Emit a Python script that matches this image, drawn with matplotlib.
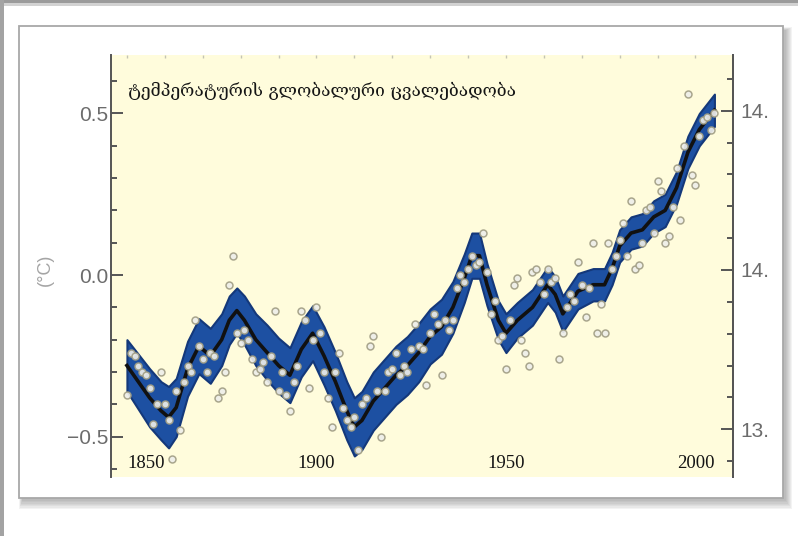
import numpy as np
import matplotlib.pyplot as plt
from matplotlib.patches import Rectangle
from matplotlib.ticker import MultipleLocator, FixedLocator, FuncFormatter

# annual global mean temperature anomalies (deg C), 1850-2005
years = np.arange(1850, 2006)
annual = [
    -0.37, -0.24, -0.25, -0.28, -0.30, -0.31, -0.35, -0.46, -0.40, -0.30,  # 1850s
    -0.40, -0.45, -0.57, -0.36, -0.48, -0.33, -0.28, -0.30, -0.14, -0.22,  # 1860s
    -0.26, -0.30, -0.24, -0.25, -0.38, -0.36, -0.30, -0.03, 0.06, -0.18,   # 1870s
    -0.21, -0.17, -0.20, -0.26, -0.30, -0.29, -0.27, -0.33, -0.25, -0.11,  # 1880s
    -0.36, -0.30, -0.37, -0.42, -0.33, -0.28, -0.11, -0.14, -0.35, -0.20,  # 1890s
    -0.10, -0.18, -0.30, -0.38, -0.47, -0.30, -0.24, -0.41, -0.45, -0.47,  # 1900s
    -0.44, -0.54, -0.40, -0.38, -0.22, -0.19, -0.36, -0.50, -0.36, -0.30,  # 1910s
    -0.29, -0.24, -0.31, -0.28, -0.30, -0.23, -0.15, -0.22, -0.23, -0.34,  # 1920s
    -0.18, -0.12, -0.15, -0.31, -0.14, -0.17, -0.14, -0.04, 0.00, -0.02,   # 1930s
    0.02, 0.06, 0.03, 0.04, 0.13, 0.01, -0.12, -0.08, -0.20, -0.19,        # 1940s
    -0.29, -0.14, -0.03, -0.01, -0.20, -0.24, -0.28, 0.01, 0.02, -0.02,    # 1950s
    -0.06, 0.02, -0.02, -0.01, -0.26, -0.18, -0.10, -0.06, -0.08, 0.04,    # 1960s
    -0.03, -0.13, -0.04, 0.10, -0.18, -0.09, -0.18, 0.10, 0.02, 0.06,      # 1970s
    0.11, 0.16, 0.06, 0.23, 0.02, 0.03, 0.10, 0.20, 0.21, 0.13,            # 1980s
    0.29, 0.26, 0.10, 0.12, 0.21, 0.33, 0.17, 0.40, 0.56, 0.31,            # 1990s
    0.28, 0.43, 0.48, 0.49, 0.45, 0.50,                                    # 2000s
]

# smoothed curve and half-width of its uncertainty band
smooth_years = [1850, 1853, 1856, 1859, 1861, 1863, 1866, 1869, 1872, 1875,
                1877, 1879, 1881, 1884, 1887, 1890, 1893, 1896, 1899, 1902,
                1905, 1908, 1910, 1912, 1915, 1918, 1921, 1924, 1927, 1930,
                1933, 1936, 1939, 1941, 1943, 1945, 1948, 1950, 1953, 1957,
                1961, 1963, 1965, 1969, 1973, 1976, 1978, 1980, 1983, 1986,
                1989, 1992, 1995, 1998, 2001, 2005]
smooth_vals = [-0.28, -0.33, -0.38, -0.42, -0.44, -0.41, -0.29, -0.22, -0.25, -0.20,
               -0.14, -0.11, -0.14, -0.20, -0.24, -0.28, -0.31, -0.23, -0.18, -0.25,
               -0.33, -0.42, -0.47, -0.45, -0.39, -0.35, -0.31, -0.28, -0.24, -0.19,
               -0.16, -0.10, -0.01, 0.06, 0.06, -0.03, -0.14, -0.18, -0.14, -0.10,
               -0.03, -0.06, -0.12, -0.05, -0.03, -0.03, 0.02, 0.09, 0.13, 0.14,
               0.18, 0.20, 0.27, 0.38, 0.45, 0.51]
band_half = [0.08, 0.085, 0.09, 0.09, 0.095, 0.09, 0.085, 0.085, 0.085, 0.08,
             0.075, 0.07, 0.075, 0.08, 0.085, 0.085, 0.085, 0.085, 0.085, 0.09,
             0.09, 0.09, 0.09, 0.09, 0.09, 0.09, 0.09, 0.09, 0.09, 0.085,
             0.085, 0.08, 0.075, 0.07, 0.07, 0.065, 0.06, 0.06, 0.055, 0.055,
             0.055, 0.055, 0.055, 0.055, 0.05, 0.05, 0.05, 0.05, 0.05, 0.05,
             0.05, 0.05, 0.05, 0.05, 0.05, 0.05]

year_ticks = [1850, 1900, 1950, 2000]
left_ticks = [-0.5, 0.0, 0.5]
right_ticks = [13.5, 14.0, 14.5]
title = "ტემპერატურის გლობალური ცვალებადობა"

W, H = 798, 536
fig = plt.figure(figsize=(W / 100, H / 100), dpi=100)


def box(x0, y0, x1, y1, **kw):
    # rectangle given in pixels measured from the top-left corner
    r = Rectangle((x0 / W, 1 - y1 / H), (x1 - x0) / W, (y1 - y0) / H,
                  transform=fig.transFigure, **kw)
    fig.add_artist(r)
    return r


# page frame, card and its shadow
box(0, 0, W, 3, color='#9b9b9b', zorder=-10, lw=0)
box(0, 3, W, 6, color='#d2d2d2', zorder=-10, lw=0)
box(0, 0, 4, H, color='#a3a3a3', zorder=-10, lw=0)
for i in range(7):
    box(22 - i * 0.5, 30 - i * 0.5, 786 + i, 501 + i * 1.3,
        color='#606060', alpha=0.07, zorder=-9, lw=0)
box(19, 26, 783, 498, facecolor='white', edgecolor='#a8a8a8', lw=1.3, zorder=-8)

ax = fig.add_axes([111 / W, 59 / H, 622 / W, 422 / H])
ax.set_facecolor('#fffcdc')
ax.set_xlim(1845.8, 2009.9)
ax.set_ylim(-0.625, 0.681)

lo = np.array(smooth_vals) - np.array(band_half)
hi = np.array(smooth_vals) + np.array(band_half)
ax.fill_between(smooth_years, lo, hi, facecolor='#1d50a2', edgecolor='#14387a',
                lw=1.5, zorder=2)
ax.plot(smooth_years, smooth_vals, color='#111111', lw=2.6, zorder=3,
        solid_joinstyle='round')
ax.plot(years, annual, 'o', ms=5.0, mfc='#eeeeea', mec='#a29f86', mew=1.1,
        alpha=0.92, zorder=4)

for side in ['top', 'bottom']:
    ax.spines[side].set_visible(False)
for side in ['left', 'right']:
    ax.spines[side].set_color('#555555')
    ax.spines[side].set_linewidth(1.4)

# left axis: anomaly
ax.yaxis.set_major_locator(FixedLocator(left_ticks))
ax.yaxis.set_minor_locator(MultipleLocator(0.1))
ax.yaxis.set_major_formatter(FuncFormatter(lambda v, p: f"{v:.1f}".replace('-', '\u2212')))
ax.tick_params(axis='y', which='both', direction='in', color='#555555', width=1.4,
               labelsize=15, labelcolor='#6c6c6c', pad=2)
ax.tick_params(axis='y', which='major', length=8.5)
ax.tick_params(axis='y', which='minor', length=4.3)
for t in ax.get_yticklabels():
    t.set_fontfamily('Liberation Sans')

# bottom year labels sit inside the plot
ax.xaxis.set_major_locator(FixedLocator(year_ticks))
ax.tick_params(axis='x', which='both', length=0, pad=-15.5, labelsize=13.5,
               labelcolor='#141414')
for t in ax.get_xticklabels():
    t.set_fontfamily('Liberation Serif')
ax.get_xticklabels()[0].set_horizontalalignment('left')

# faint decade marks along the top
top = ax.secondary_xaxis('top')
top.xaxis.set_major_locator(MultipleLocator(10))
top.tick_params(direction='in', length=2.5, width=1, color='#c4c4b4', labelsize=0,
                labelcolor='none')
top.spines['top'].set_visible(False)

# right axis: absolute temperature
ax2 = ax.twinx()
ax2.set_ylim(13.35, 14.675)
ax2.yaxis.set_major_locator(FixedLocator(right_ticks))
ax2.yaxis.set_minor_locator(MultipleLocator(0.1))
ax2.yaxis.set_major_formatter(FuncFormatter(lambda v, p: f"{v:.1f}"))
ax2.tick_params(axis='y', which='both', direction='in', color='#555555', width=1.4,
                labelsize=15, labelcolor='#6c6c6c', pad=5)
ax2.tick_params(axis='y', which='major', length=8.5)
ax2.tick_params(axis='y', which='minor', length=4.3)
for t in ax2.get_yticklabels():
    t.set_fontfamily('Liberation Sans')
for side in ['top', 'bottom', 'left']:
    ax2.spines[side].set_visible(False)
ax2.spines['right'].set_color('#555555')
ax2.spines['right'].set_linewidth(1.4)

# right labels are cut off by the card margin
box(768, 60, 782, 470, facecolor='white', lw=0, zorder=5)

fig.text(45 / W, 1 - 270 / H, '(°C)', rotation=90, ha='center', va='center',
         fontsize=13, color='#a4a4a4', family='Liberation Sans')

tt = ax.text(0.027, 0.915, title, transform=ax.transAxes, ha='left', va='center',
             fontsize=14, color='#151515', family=['DejaVu Serif', 'DejaVu Sans'],
             zorder=6)
fig.canvas.draw()
wpx = tt.get_window_extent().width
tt.set_fontsize(14 * 388 / wpx)

fig.savefig('out.png', dpi=100)
